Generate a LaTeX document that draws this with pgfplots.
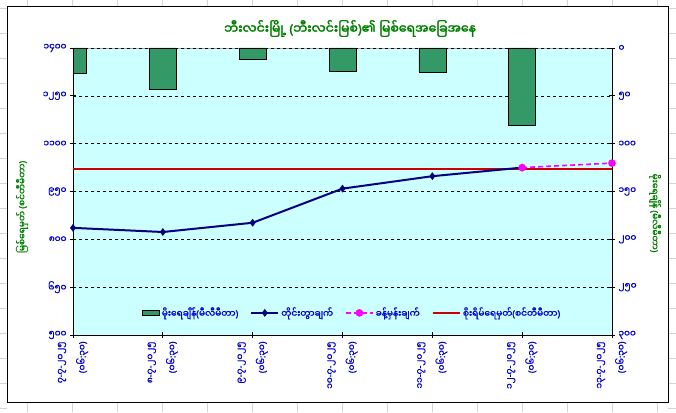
\documentclass[border=0pt]{standalone}
\usepackage{pgfplots}
\pgfplotsset{compat=1.18}
\usepackage{fontspec}
\setmainfont{Noto Sans Myanmar UI}[Script=Myanmar,FakeBold=1.3]
\newfontfamily\mmbold{Noto Sans Myanmar UI}[Script=Myanmar,FakeBold=2.5]
\newfontfamily\pfont{Noto Sans}[FakeBold=1.3]
\newfontfamily\pfontb{Noto Sans}[FakeBold=2.5]
\newcommand\LP{{\pfont(}}
\newcommand\RP{{\pfont)}}
\newcommand\HY{{\pfont-}}
\newcommand\CL{{\pfont:}}
\definecolor{plotbg}{RGB}{204,255,255}
\definecolor{bargreen}{RGB}{51,153,102}
\definecolor{navyline}{RGB}{0,0,128}
\definecolor{tickblue}{RGB}{0,0,204}
\definecolor{titlegreen}{RGB}{0,128,0}
\definecolor{dangerred}{RGB}{204,0,0}
\definecolor{pinkm}{RGB}{255,0,255}
\definecolor{cellgray}{RGB}{212,212,212}
\pgfplotsset{
  mybarlegend/.style={legend image code/.code={\draw[##1] (0pt,-2.5pt) rectangle (17pt,2.5pt);}},
  mylinelegend/.style={legend image code/.code={\draw[mark repeat=2,mark phase=2,##1] plot coordinates {(0pt,0pt) (13.5pt,0pt) (27pt,0pt)};}},
}
\begin{document}
\begin{tikzpicture}[x=1pt,y=1pt]
\useasboundingbox (-73,-77) rectangle (603,335);
\fill[white] (-73,-77) rectangle (603,335);
\foreach \X in {27,72,...,657} {
  \draw[cellgray] (\X-73,329) -- (\X-73,335);
  \draw[cellgray] (\X-73,-77) -- (\X-73,-67);
}
\foreach \Y in {8,33,...,408} {
  \draw[cellgray] (-73,335-\Y) -- (-66,335-\Y);
  \draw[cellgray] (595,335-\Y) -- (603,335-\Y);
}
\draw[black, line width=0.8pt, fill=white] (-66,-67) rectangle (595,329);

% ---- rainfall bars (secondary, reversed axis on the right)
\begin{axis}[
  at={(0,0)}, anchor=south west,
  scale only axis, width=539pt, height=287pt,
  xmin=0, xmax=6,
  ymin=0, ymax=300, y dir=reverse,
  axis y line*=right,
  axis x line=none,
  ytick={0,50,...,300},
  yticklabels={၀,၅၀,၁၀၀,၁၅၀,၂၀၀,၂၅၀,၃၀၀},
  yticklabel style={font=\fontsize{9}{10}\selectfont, text=tickblue},
  ymajorgrids, grid style={black, dashed, line width=0.6pt},
  axis background/.style={fill=plotbg, draw=gray!70},
  axis line style={black, line width=0.8pt},
  tick style={black, line width=0.8pt},
  tick align=center, major tick length=6pt,
  ylabel={မိုးရေချိန် \LP မီလီမီတာ\RP},
  ylabel style={at={(axis description cs:1.0798,0.425)}, anchor=center, rotate=180,
    font=\fontsize{9}{10}\selectfont, text=titlegreen},
]
\addplot[ybar, bar width=0.3, fill=bargreen, draw=black, line width=0.6pt]
  coordinates {(0,26) (1,43) (2,11.5) (3,24) (4,25) (5,81)};
\end{axis}

% ---- water levels (primary axis on the left)
\begin{axis}[
  at={(0,0)}, anchor=south west,
  scale only axis, width=539pt, height=287pt,
  xmin=0, xmax=6,
  ymin=500, ymax=1400,
  axis x line*=bottom, axis y line*=left,
  axis line style={black, line width=0.8pt},
  tick style={black, line width=0.8pt},
  tick align=center, major tick length=6pt,
  xtick={0,1,2,3,4,5,6},
  xticklabels={{၇\HY၇\HY၂၀၂၅\\\LP၀၆\CL၃၀\RP},{၈\HY၇\HY၂၀၂၅\\\LP၀၆\CL၃၀\RP},{၉\HY၇\HY၂၀၂၅\\\LP၀၆\CL၃၀\RP},{၁၀\HY၇\HY၂၀၂၅\\\LP၀၆\CL၃၀\RP},{၁၁\HY၇\HY၂၀၂၅\\\LP၀၆\CL၃၀\RP},{၁၂\HY၇\HY၂၀၂၅\\\LP၀၆\CL၃၀\RP},{၁၃\HY၇\HY၂၀၂၅\\\LP၀၆\CL၃၀\RP}},
  xticklabel style={rotate=90, anchor=east, align=right,
    font=\fontsize{9}{22}\selectfont, text=tickblue},
  ytick={500,650,...,1400},
  yticklabels={၅၀၀,၆၅၀,၈၀၀,၉၅၀,၁၁၀၀,၁၂၅၀,၁၄၀၀},
  yticklabel style={font=\fontsize{9}{10}\selectfont, text=tickblue},
  ylabel={မြစ်ရေမှတ် \LP စင်တီမီတာ\RP},
  ylabel style={at={(axis description cs:-0.0946,0.446)}, anchor=center,
    font=\fontsize{9}{10}\selectfont, text=titlegreen},
  legend style={draw=none, fill=none, at={(axis description cs:0.518,0.077)}, anchor=center,
    font=\fontsize{9}{10}\selectfont, text=tickblue,
    /tikz/every even column/.append style={column sep=10pt}},
  legend columns=4,
  legend cell align=left,
  mylinelegend,
]
\addlegendimage{fill=bargreen, draw=black, line width=0.6pt, mybarlegend}
\addlegendentry{မိုးရေချိန်\LP မီလီမီတာ\RP}
\addplot[dangerred, line width=2.2pt, forget plot] coordinates {(0,1021) (6,1021)};
\addplot[navyline, line width=2pt, mark=diamond*, mark size=3.5pt,
  mark options={fill=navyline, line width=0.5pt}]
  coordinates {(0,836) (1,823) (2,852) (3,959) (4,998) (5,1025)};
\addlegendentry{တိုင်းတွာချက်}
\addplot[pinkm, line width=1.6pt, dash pattern=on 5pt off 3pt, mark=*, mark size=3pt,
  mark options={solid, fill=pinkm}]
  coordinates {(5,1025) (6,1039)};
\addlegendentry{ခန့်မှန်းချက်}
\addlegendimage{dangerred, line width=2.2pt}
\addlegendentry{စိုးရိမ်ရေမှတ်\LP စင်တီမီတာ\RP}
\end{axis}

\node[font=\mmbold\fontsize{12.5}{14}\selectfont, text=titlegreen] at (277,306.5)
  {ဘီးလင်းမြို့ {\pfontb(}ဘီးလင်းမြစ်{\pfontb)}၏ မြစ်ရေအခြေအနေ};
\end{tikzpicture}
\end{document}
